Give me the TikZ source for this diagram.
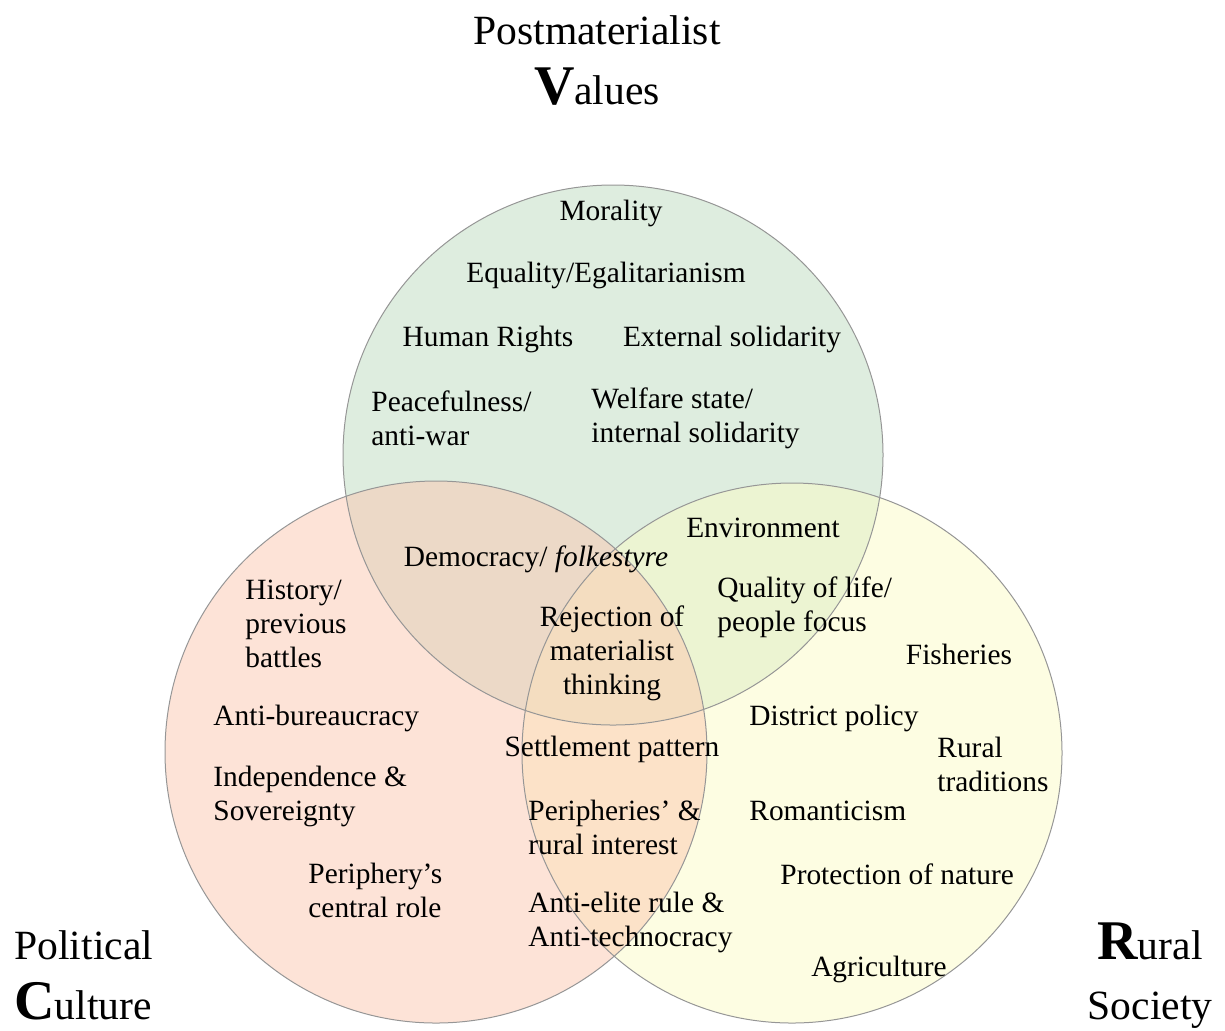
\documentclass[tikz,border=0pt]{standalone}
\usepackage{fontspec}
\setmainfont{Liberation Serif}
\definecolor{valgreen}{RGB}{189,219,191}
\definecolor{polred}{RGB}{251,199,175}
\definecolor{ruryellow}{RGB}{251,251,197}
\definecolor{rimgray}{RGB}{150,150,150}

\begin{document}
\begin{tikzpicture}[x=0.5pt,y=-0.5pt,
    item/.style={inner sep=0pt,yshift=-1pt,font=\fontsize{14.7}{17}\selectfont},
    itemleft/.style={item,anchor=west,align=left},
    itemmid/.style={item,align=center},
    title/.style={inner sep=0pt,font=\fontsize{20.8}{30}\selectfont}]

    \useasboundingbox (0,0) rectangle (1225,1030);

    % the three sets
    \fill[valgreen,fill opacity=0.5] (613,455) circle[radius=270];
    \fill[ruryellow,fill opacity=0.5] (792,753) circle[radius=270];
    \fill[polred,fill opacity=0.5] (436,752) circle[radius=271];
    \draw[rimgray,line width=0.5pt] (613,455) circle[radius=270];
    \draw[rimgray,line width=0.5pt] (436,752) circle[radius=271];
    \draw[rimgray,line width=0.5pt] (792,753) circle[radius=270];

    % set titles
    \node[title,align=center] (values) at (597,60) {Postmaterialist\\{\fontsize{28}{30}\selectfont\bfseries V}alues};
    \node[title,align=left,anchor=west] (culture) at (14,975) {Political\\{\fontsize{28}{30}\selectfont\bfseries C}ulture};
    \node[title,align=center] (society) at (1150,976) {{\fontsize{28}{30}\selectfont\bfseries R}ural\\Society};

    % values only
    \node[itemmid] (morality) at (611,211) {Morality};
    \node[itemmid] (equality) at (606,273) {Equality/Egalitarianism};
    \node[itemmid] (rights) at (488,337) {Human Rights};
    \node[itemmid] (external) at (732,337) {External solidarity};
    \node[itemleft] (peace) at (371,416) {Peacefulness/\\anti-war};
    \node[itemleft] (welfare) at (591,416) {Welfare state/\\internal solidarity};

    % overlaps
    \node[itemmid] (democracy) at (536,557) {Democracy/ \textit{folkestyre}};
    \node[itemmid] (environment) at (763,526) {Environment};
    \node[itemleft] (quality) at (717,605) {Quality of life/\\people focus};
    \node[itemmid] (rejection) at (612,651) {Rejection of\\materialist\\thinking};
    \node[itemmid] (settlement) at (612,747) {Settlement pattern};
    \node[itemleft] (peripheries) at (528,825) {Peripheries’ \&\\rural interest};
    \node[itemleft] (antielite) at (528,920) {Anti-elite rule \&\\Anti-technocracy};

    % culture only
    \node[itemleft] (history) at (245,622) {History/\\previous\\battles};
    \node[itemleft] (bureau) at (213,716) {Anti-bureaucracy};
    \node[itemleft] (independence) at (213,794) {Independence \&\\Sovereignty};
    \node[itemleft] (periphery) at (308,888) {Periphery’s\\central role};

    % society only
    \node[itemmid] (fisheries) at (959,652) {Fisheries};
    \node[itemleft] (district) at (749,716) {District policy};
    \node[itemleft] (traditions) at (937,762) {Rural\\traditions};
    \node[itemleft] (romanticism) at (749,809) {Romanticism};
    \node[itemleft] (nature) at (780,872) {Protection of nature};
    \node[itemmid] (agriculture) at (879,967) {Agriculture};

\end{tikzpicture}
\end{document}
